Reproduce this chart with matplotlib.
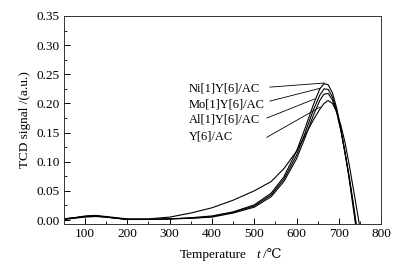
import matplotlib
matplotlib.use('Agg')
import matplotlib.pyplot as plt
from matplotlib.ticker import MultipleLocator

plt.rcParams['font.family'] = ['Liberation Serif', 'DejaVu Serif']
plt.rcParams['font.size'] = 9.5

# temperature grid (deg C)
temp = [50, 75, 100, 125, 150, 175, 200, 250, 300, 350, 400, 450, 500, 540,
        570, 600, 620, 640, 655, 665, 675, 685, 695, 705, 715, 725, 735, 745, 755]

# TCD signal (a.u.)
ni_y6 = [0.002, 0.004, 0.006, 0.007, 0.005, 0.003, 0.001, 0.001, 0.002, 0.004,
         0.007, 0.014, 0.026, 0.046, 0.074, 0.118, 0.157, 0.198, 0.225, 0.234,
         0.232, 0.218, 0.192, 0.156, 0.114, 0.068, 0.016, -0.035, -0.08]
mo_y6 = [0.002, 0.004, 0.006, 0.007, 0.005, 0.003, 0.001, 0.001, 0.002, 0.003,
         0.006, 0.013, 0.024, 0.043, 0.070, 0.111, 0.149, 0.189, 0.214, 0.225,
         0.224, 0.211, 0.187, 0.154, 0.114, 0.071, 0.022, -0.03, -0.08]
al_y6 = [0.001, 0.003, 0.005, 0.006, 0.005, 0.003, 0.001, 0.001, 0.002, 0.003,
         0.005, 0.012, 0.022, 0.040, 0.066, 0.105, 0.141, 0.180, 0.205, 0.216,
         0.217, 0.206, 0.184, 0.153, 0.114, 0.073, 0.025, -0.027, -0.08]
y6 = [0.001, 0.004, 0.007, 0.008, 0.006, 0.004, 0.002, 0.002, 0.005, 0.012,
      0.021, 0.034, 0.050, 0.066, 0.088, 0.118, 0.145, 0.172, 0.190, 0.200,
      0.205, 0.200, 0.186, 0.162, 0.132, 0.093, 0.051, 0.008, -0.035]

labels = ['Ni[1]Y[6]/AC', 'Mo[1]Y[6]/AC', 'Al[1]Y[6]/AC', 'Y[6]/AC']
label_y = [0.226, 0.199, 0.172, 0.144]
# leader lines: (start T, start v, end T, end v)
leader_start = [(537, 0.228), (537, 0.204), (530, 0.175), (530, 0.142)]
leader_end = [(666, 0.235), (656, 0.226), (644, 0.208), (656, 0.194)]

fig = plt.figure(figsize=(4.02, 2.71), dpi=100)
ax = fig.add_axes([0.159, 0.173, 0.789, 0.768])

for series in [ni_y6, mo_y6, al_y6, y6]:
    ax.plot(temp, series, color='black', linewidth=0.8)

for lab, ly, (x0, y0), (x1, y1) in zip(labels, label_y, leader_start, leader_end):
    ax.text(346, ly, lab, ha='left', va='center', fontsize=9)
    ax.plot([x0, x1], [y0, y1], color='black', linewidth=0.6)

ax.set_xlim(50, 800)
ax.set_ylim(-0.007, 0.35)
ax.xaxis.set_major_locator(MultipleLocator(100))
ax.xaxis.set_minor_locator(MultipleLocator(50))
ax.yaxis.set_major_locator(MultipleLocator(0.05))
ax.yaxis.set_minor_locator(MultipleLocator(0.025))
ax.yaxis.set_major_formatter(plt.FuncFormatter(lambda v, p: f'{v:.2f}'))
ax.tick_params(which='both', direction='in', top=False, right=False, pad=3)
ax.tick_params(which='major', length=4, width=0.7)
ax.tick_params(which='minor', length=2, width=0.6)
for s in ax.spines.values():
    s.set_linewidth(0.7)
    s.set_color('#333333')

ax.set_ylabel('TCD signal /(a.u.)', labelpad=4)
ax.text(0.472, -0.149, 'Temperature', transform=ax.transAxes, ha='center', va='center')
ax.text(0.612, -0.149, 't', transform=ax.transAxes, ha='center', va='center',
        fontstyle='italic')
ax.text(0.656, -0.149, '/℃', transform=ax.transAxes, ha='center', va='center')

fig.savefig('out.png', dpi=100)
